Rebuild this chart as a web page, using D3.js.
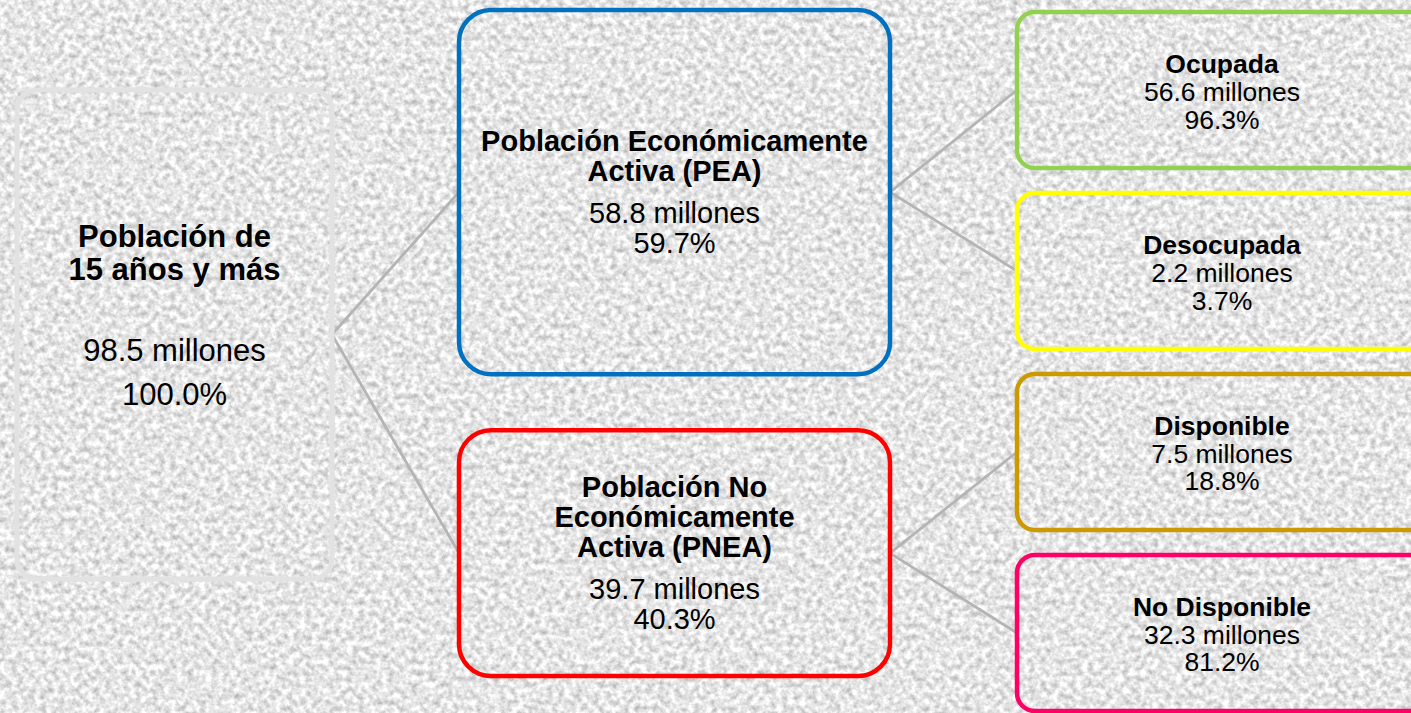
<!DOCTYPE html>
<html>
<head>
<meta charset="utf-8">
<script src="https://d3js.org/d3.v7.min.js"></script>
<style>
  body { margin: 0; background: #e2e2e2; overflow: hidden; }
  svg { display: block; }
  text { font-family: "Liberation Sans", Arial, Helvetica, sans-serif; fill: #000; }
</style>
</head>
<body>
<div id="chart"></div>
<script>
// diagram nodes: root, the two groups, then the four sub groups
var ids = ["total", "pea", "pnea", "ocupada", "desocupada", "disponible", "nodisponible"];
var parentIds = [null, "total", "total", "pea", "pea", "pnea", "pnea"];
var titles = [
  "Población de\n15 años y más",
  "Población Económicamente\nActiva (PEA)",
  "Población No\nEconómicamente\nActiva (PNEA)",
  "Ocupada",
  "Desocupada",
  "Disponible",
  "No Disponible"
];
var millones = [98.5, 58.8, 39.7, 56.6, 2.2, 7.5, 32.3];
var porcentajes = [100.0, 59.7, 40.3, 96.3, 3.7, 18.8, 81.2];
</script>
<script>
var width = 1411, height = 713;

var color = d3.scaleOrdinal()
  .domain(ids)
  .range(["#e2e2e2", "#0070c0", "#ff0000", "#92d050", "#ffff00", "#cc9900", "#ff0066"]);

// one entry per tree depth
var levels = [
  {x: 17, w: 315, r: 20, sw: 5, font: 31, titleStep: 33, gap: 81, step: 44, shift: -8.5, textDx: 157.5},
  {x: 459, w: 431, r: 32, sw: 4.5, font: 29, titleStep: 30, gap: 42, step: 30, shift: 9.5, textDx: 215.5},
  {x: 1017, w: 450, r: 18, sw: 4.5, font: 26.5, titleStep: 28, gap: 28, step: 27.5, shift: 10.75, textDx: 205}
];

var rows = ids.map(function (id, i) {
  return {id: id, parent: parentIds[i], title: titles[i], value: millones[i], pct: porcentajes[i]};
});

var root = d3.stratify()
  .id(function (d) { return d.id; })
  .parentId(function (d) { return d.parent; })(rows);

// vertical placement
root.y0 = 90; root.y1 = 579;

var yMid = d3.scaleLinear()
  .domain([0, root.data.value])
  .range([0, 610]);

var cursor = 10;
root.children.forEach(function (c) {
  c.y0 = cursor;
  c.y1 = cursor + yMid(c.data.value);
  cursor = c.y1 + 56;
});

var leaves = root.leaves();
var yLeaf = d3.scaleBand()
  .domain(leaves.map(function (d) { return d.id; }))
  .range([12, 711])
  .paddingInner(0.138);

leaves.forEach(function (l) {
  l.y0 = yLeaf(l.id);
  l.y1 = l.y0 + yLeaf.bandwidth();
});

var svg = d3.select("#chart")
  .append("svg")
  .attr("width", width)
  .attr("height", height);

// granite like background
var defs = svg.append("defs");
var filter = defs.append("filter")
  .attr("id", "granite")
  .attr("x", 0).attr("y", 0).attr("width", "100%").attr("height", "100%")
  .attr("color-interpolation-filters", "sRGB");
filter.append("feTurbulence")
  .attr("type", "fractalNoise")
  .attr("baseFrequency", 0.17)
  .attr("numOctaves", 3)
  .attr("seed", 7);
filter.append("feColorMatrix")
  .attr("type", "matrix")
  .attr("values", "0.5 0 0 0 0.65  0.5 0 0 0 0.65  0.5 0 0 0 0.65  0 0 0 0 1");
filter.append("feGaussianBlur")
  .attr("stdDeviation", 0.5);

svg.append("rect")
  .attr("width", width)
  .attr("height", height)
  .attr("filter", "url(#granite)");

function cy(d) { return (d.y0 + d.y1) / 2; }

// connectors
svg.append("g")
  .selectAll("line")
  .data(root.links())
  .enter()
  .append("line")
  .attr("x1", function (d) { return levels[d.source.depth].x + levels[d.source.depth].w; })
  .attr("y1", function (d) { return cy(d.source); })
  .attr("x2", function (d) { return levels[d.target.depth].x; })
  .attr("y2", function (d) { return cy(d.target); })
  .attr("stroke", "#b4b4b4")
  .attr("stroke-width", 2.8);

// boxes
var node = svg.append("g")
  .selectAll("g")
  .data(root.descendants())
  .enter()
  .append("g");

node.append("rect")
  .attr("x", function (d) { return levels[d.depth].x; })
  .attr("y", function (d) { return d.y0; })
  .attr("width", function (d) { return levels[d.depth].w; })
  .attr("height", function (d) { return d.y1 - d.y0; })
  .attr("rx", function (d) { return levels[d.depth].r; })
  .attr("fill", "none")
  .attr("stroke", function (d) { return color(d.id); })
  .attr("stroke-width", function (d) { return levels[d.depth].sw; });

var fmt = d3.format(".1f");

node.each(function (d) {
  var lv = levels[d.depth];
  var lines = d.data.title.split("\n");
  var n = lines.length;
  var span = (n - 1) * lv.titleStep + lv.gap + lv.step;
  var first = cy(d) - span / 2 + lv.shift;
  var tx = lv.x + lv.textDx;
  var g = d3.select(this);

  lines.forEach(function (t, i) {
    g.append("text")
      .attr("x", tx)
      .attr("y", first + i * lv.titleStep)
      .attr("text-anchor", "middle")
      .attr("font-size", lv.font)
      .attr("font-weight", "bold")
      .text(t);
  });

  var vy = first + (n - 1) * lv.titleStep + lv.gap;
  g.append("text")
    .attr("x", tx)
    .attr("y", vy)
    .attr("text-anchor", "middle")
    .attr("font-size", lv.font)
    .text(fmt(d.data.value) + " millones");
  g.append("text")
    .attr("x", tx)
    .attr("y", vy + lv.step)
    .attr("text-anchor", "middle")
    .attr("font-size", lv.font)
    .text(fmt(d.data.pct) + "%");
});
</script>
</body>
</html>
